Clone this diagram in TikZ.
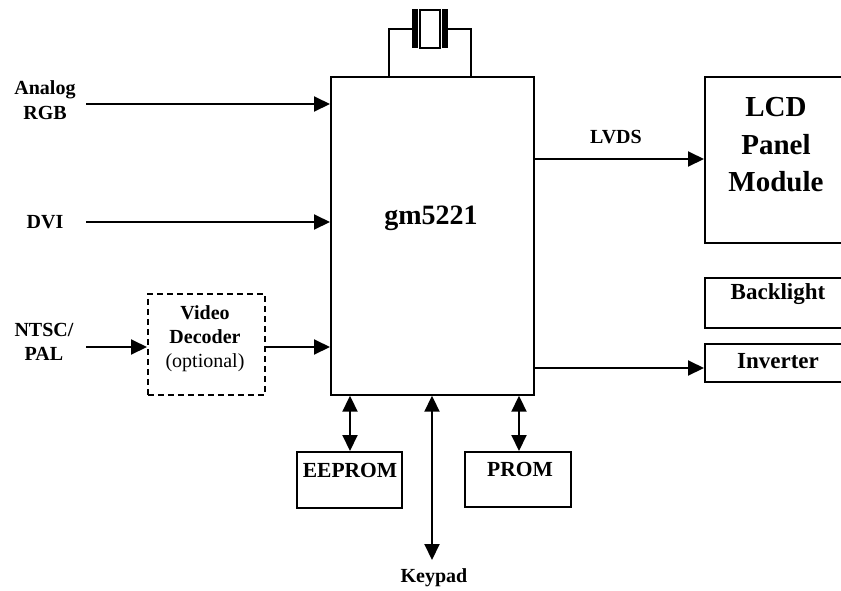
\documentclass[tikz,border=0pt]{standalone}
\usepackage{fontspec}
\setmainfont{Liberation Serif}
\usetikzlibrary{arrows.meta}
\begin{document}
\begin{tikzpicture}[x=1pt,y=-1pt,
  box/.style={draw, line width=1.7pt, inner sep=0pt, anchor=north west},
  dbox/.style={box, dash pattern=on 6pt off 4pt},
  lbl/.style={inner sep=0pt, align=center, font=\fontsize{20}{24}\selectfont\bfseries},
  arr/.style={line width=2pt, -{Triangle[length=16pt,width=15pt]}},
  darr/.style={line width=2pt, {Triangle[length=16pt,width=15pt]}-{Triangle[length=16pt,width=15pt]}},
  wire/.style={line width=1.7pt}
]
\useasboundingbox (0,0) rectangle (841,590);
% main chip
\node[box, minimum width=203pt, minimum height=318pt] (gm) at (330,76) {};
\node[lbl, font=\fontsize{28}{32}\selectfont\bfseries] (gmt) at (431,218) {gm5221};
% crystal
\draw[wire] (389,76) |- (412,29);
\draw[wire] (471,76) |- (448,29);
\fill (412,9) rectangle (418,48);
\fill (442,9) rectangle (448,48);
\draw[wire] (420,10) rectangle (440,48);
% inputs
\node[lbl, font=\fontsize{20}{25}\selectfont\bfseries] (argb) at (45,100) {Analog\\RGB};
\node[lbl] (dvi) at (45,222) {DVI};
\node[lbl, font=\fontsize{20}{24}\selectfont\bfseries] (ntsc) at (44,342) {NTSC/\\PAL};
\coordinate (a1) at (86,104);
\coordinate (a2) at (86,222);
\coordinate (a3) at (86,347);
\node[dbox, minimum width=117pt, minimum height=101pt] (vd) at (147,293) {};
\node[lbl, font=\fontsize{20}{24}\selectfont] (vdt) at (205,339) {\bfseries Video\\\bfseries Decoder\\(optional)};
\draw[arr] (a1) -- (a1 -| gm.west);
\draw[arr] (a2) -- (a2 -| gm.west);
\draw[arr] (a3) -- (a3 -| vd.west);
\draw[arr] (a3 -| vd.east) -- (a3 -| gm.west);
% outputs
\node[box, minimum width=145pt, minimum height=166pt] (lcd) at (704,76) {};
\node[lbl, font=\fontsize{29}{37.5}\selectfont\bfseries] (lcdt) at (776,145) {LCD\\Panel\\Module};
\node[box, minimum width=145pt, minimum height=50pt] (bl) at (704,277) {};
\node[lbl, font=\fontsize{23}{27}\selectfont\bfseries] (blt) at (778,294) {Backlight};
\node[box, minimum width=145pt, minimum height=38pt] (inv) at (704,343) {};
\node[lbl, font=\fontsize{23}{27}\selectfont\bfseries] (invt) at (778,361) {Inverter};
\coordinate (o1) at (533,159);
\coordinate (o2) at (533,368);
\draw[arr] (o1) -- (o1 -| lcd.west);
\draw[arr] (o2) -- (o2 -| inv.west);
\node[lbl] (lvds) at (616,137) {LVDS};
% bottom
\node[box, minimum width=105pt, minimum height=56pt] (ee) at (296,451) {};
\node[lbl, font=\fontsize{21.5}{25}\selectfont\bfseries] (eet) at (350,470) {EEPROM};
\node[box, minimum width=106pt, minimum height=55pt] (prom) at (464,451) {};
\node[lbl, font=\fontsize{21.5}{25}\selectfont\bfseries] (promt) at (520,469) {PROM};
\coordinate (k1) at (432,560);
\node[lbl] (kp) at (434,578) {Keypad};
\draw[darr] (gm.south -| 350,0) -- (ee.north -| 350,0);
\draw[darr] (gm.south -| 519,0) -- (prom.north -| 519,0);
\draw[darr] (gm.south -| k1) -- (k1);
\end{tikzpicture}
\end{document}
